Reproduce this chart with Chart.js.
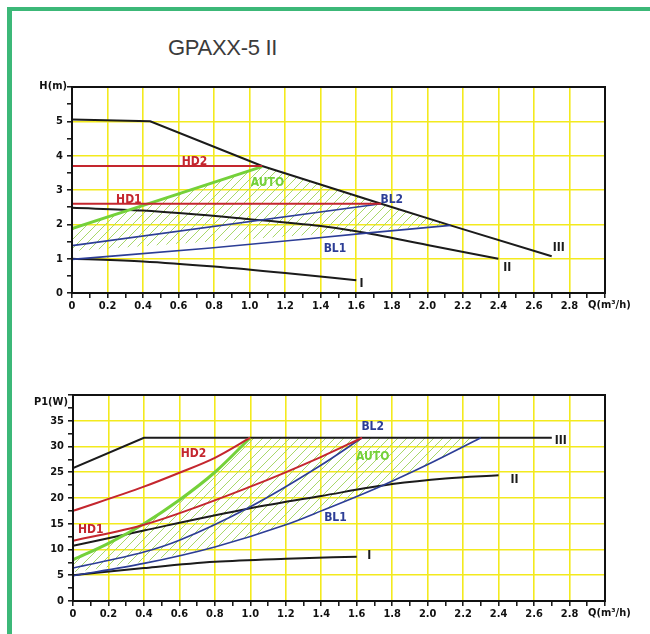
<!DOCTYPE html>
<html>
<head>
<meta charset="utf-8">
<script src="https://cdn.jsdelivr.net/npm/chart.js@4/dist/chart.umd.min.js"></script>
<style>
  html, body { margin: 0; padding: 0; background: #fff; width: 650px; height: 634px; overflow: hidden; }
  .frame { position: absolute; left: 7px; top: 7px; width: 660px; height: 624px;
    border-left: 5px solid #3cb878; border-top: 4px solid #3cb878; border-bottom: 1px solid #dcefe3; }
  .title { position: absolute; left: 168px; top: 35px; font: 22px "Liberation Sans Narrow", "Arial Narrow", "Liberation Sans", sans-serif;
    color: #3b3b3b; letter-spacing: -0.3px; }
  canvas { position: absolute; left: 0; }
  #topChart { top: 60px; }
  #bottomChart { top: 368px; }
</style>
</head>
<body>
<div class="frame"></div>
<div class="title">GPAXX-5 II</div>
<canvas id="topChart" width="650" height="262"></canvas>
<canvas id="bottomChart" width="650" height="262"></canvas>
<script>
// ---- head curves H(m) vs Q(m3/h)
const hQ_III = [0, 0.44, 1.07, 1.74, 2.13, 2.7];
const hH_III = [5.05, 5.0, 3.7, 2.6, 1.97, 1.07];
const hQ_II = [0, 0.4, 1.0, 1.4, 1.6, 2.0, 2.4];
const hH_II = [2.48, 2.4, 2.15, 1.95, 1.8, 1.4, 1.0];
const hQ_I = [0, 0.4, 0.8, 1.2, 1.6];
const hH_I = [1.0, 0.92, 0.77, 0.58, 0.37];
const hQ_HD2 = [0, 1.07];
const hH_HD2 = [3.7, 3.7];
const hQ_HD1 = [0, 1.74];
const hH_HD1 = [2.6, 2.6];
const hQ_AUTO = [0, 1.07];
const hH_AUTO = [1.88, 3.68];
const hQ_BL2 = [0, 1.74];
const hH_BL2 = [1.38, 2.6];
const hQ_BL1 = [0, 0.78, 1.67, 2.13];
const hH_BL1 = [0.98, 1.31, 1.75, 1.97];
const hQ_zoneTop = [0, 1.07, 1.74, 2.13];
const hH_zoneTop = [1.88, 3.68, 2.6, 1.97];
const hQ_zoneLow = [0, 2.13];
const hH_zoneLow = [1.22, 1.97];

// ---- power curves P1(W) vs Q(m3/h)
const pQ_III = [0, 0.4, 2.7];
const pP_III = [25.8, 31.7, 31.7];
const pQ_II = [0, 0.4, 1.0, 1.4, 1.8, 2.1, 2.4];
const pP_II = [10.7, 13.7, 18.0, 20.4, 22.7, 23.8, 24.4];
const pQ_I = [0, 0.4, 0.8, 1.2, 1.6];
const pP_I = [5.0, 6.4, 7.6, 8.2, 8.6];
const pQ_HD2 = [0, 0.4, 0.6, 0.8, 1.0];
const pP_HD2 = [17.5, 22.2, 24.9, 27.8, 31.7];
const pQ_HD1 = [0, 0.4, 1.0, 1.4, 1.63];
const pP_HD1 = [11.7, 14.8, 22.2, 28.0, 31.7];
const pQ_AUTO = [0, 0.2, 0.4, 0.6, 0.8, 1.0];
const pP_AUTO = [8.0, 11.2, 15.0, 19.6, 25.0, 31.7];
const pQ_BL2 = [0, 0.4, 0.6, 1.0, 1.4, 1.63];
const pP_BL2 = [6.4, 9.5, 11.8, 18.3, 26.4, 31.7];
const pQ_BL1 = [0, 0.4, 0.8, 1.2, 1.4, 1.73, 2.0, 2.3];
const pP_BL1 = [4.9, 7.3, 10.5, 14.8, 17.5, 22.2, 26.5, 31.7];
const pQ_zoneTop = [0, 0.2, 0.4, 0.6, 0.8, 1.0, 2.3];
const pP_zoneTop = [8.0, 11.2, 15.0, 19.6, 25.0, 31.7, 31.7];
const pQ_zoneLow = [0, 0.4, 0.8, 1.2, 1.4, 1.73, 2.0, 2.3];
const pP_zoneLow = [5.6, 7.6, 10.6, 14.8, 17.5, 22.2, 26.5, 31.7];

// curve names and where they sit (data units)
const headLabels = [
  ["HD2", 0.69, 3.82, "red"], ["HD1", 0.32, 2.71, "red"], ["AUTO", 1.10, 3.22, "green"],
  ["BL2", 1.80, 2.71, "blue"], ["BL1", 1.48, 1.28, "blue"],
  ["III", 2.74, 1.31, "black"], ["II", 2.45, 0.73, "black"], ["I", 1.63, 0.26, "black"],
];
const powerLabels = [
  ["HD2", 0.68, 28.5, "red"], ["HD1", 0.10, 13.8, "red"], ["AUTO", 1.69, 28.0, "green"],
  ["BL2", 1.69, 33.8, "blue"], ["BL1", 1.48, 16.1, "blue"],
  ["III", 2.75, 31.1, "black"], ["II", 2.49, 23.5, "black"], ["I", 1.67, 8.7, "black"],
];

const colors = { red: "#c4262e", green: "#74d13a", blue: "#2c3d96", black: "#1b1b1b" };
const yellow = "#f3ea1e";
const tickFont = { family: "'DejaVu Sans Condensed', 'DejaVu Sans', sans-serif", size: 11, weight: "bold" };
const labelFont = "bold 12px 'DejaVu Sans Condensed', 'DejaVu Sans', sans-serif";

function pts(xs, ys) {
  return xs.map((x, i) => ({ x: x, y: ys[i] }));
}

function makeHatch() {
  const c = document.createElement("canvas");
  c.width = 9;
  c.height = 9;
  const g = c.getContext("2d");
  g.strokeStyle = "#a8d86a";
  g.lineWidth = 1;
  g.beginPath();
  g.moveTo(0, 9); g.lineTo(9, 0);
  g.moveTo(-1, 1); g.lineTo(1, -1);
  g.moveTo(8, 10); g.lineTo(10, 8);
  g.stroke();
  return g.createPattern(c, "repeat");
}

function curve(xs, ys, color, width, smooth) {
  return {
    data: pts(xs, ys),
    borderColor: color,
    borderWidth: width,
    pointRadius: 0,
    fill: false,
    cubicInterpolationMode: smooth ? "monotone" : "default",
    tension: 0,
  };
}

const framePlugin = {
  id: "frame",
  afterDatasetsDraw(chart, args, opts) {
    const a = chart.chartArea;
    const ctx = chart.ctx;
    ctx.save();
    ctx.strokeStyle = "#111";
    ctx.lineWidth = 2;
    ctx.strokeRect(a.left, a.top, a.right - a.left, a.bottom - a.top);

    ctx.font = labelFont;
    ctx.textBaseline = "middle";
    opts.items.forEach((it) => {
      ctx.fillStyle = colors[it[3]];
      ctx.textAlign = "center";
      ctx.fillText(it[0], chart.scales.x.getPixelForValue(it[1]), chart.scales.y.getPixelForValue(it[2]));
    });

    ctx.fillStyle = "#111";
    ctx.font = tickFont.weight + " " + tickFont.size + "px " + tickFont.family;
    ctx.textAlign = "right";
    ctx.fillText(opts.yName, a.left - 5, a.top + opts.yNameDy);
    ctx.textAlign = "left";
    ctx.fillText("Q(m³/h)", a.right - 17, a.bottom + 12);
    ctx.restore();
  },
};

function makeChart(id, yMax, yStep, yMajor, yLabelMax, yWidth, sets, labels, yName, yNameDy) {
  const hatch = makeHatch();
  const datasets = [
    curve(sets.HD2[0], sets.HD2[1], colors.red, 2, true),
    curve(sets.HD1[0], sets.HD1[1], colors.red, 2, true),
    curve(sets.AUTO[0], sets.AUTO[1], colors.green, 3, true),
    curve(sets.BL2[0], sets.BL2[1], colors.blue, 1.6, true),
    curve(sets.BL1[0], sets.BL1[1], colors.blue, 1.6, true),
    curve(sets.III[0], sets.III[1], colors.black, 2, false),
    curve(sets.II[0], sets.II[1], colors.black, 2, true),
    curve(sets.I[0], sets.I[1], colors.black, 2, true),
    curve(sets.zoneTop[0], sets.zoneTop[1], "rgba(0,0,0,0)", 0, false),
    Object.assign(curve(sets.zoneLow[0], sets.zoneLow[1], "rgba(0,0,0,0)", 0, false), {
      fill: "-1",
      backgroundColor: hatch,
    }),
  ];

  return new Chart(document.getElementById(id), {
    type: "line",
    data: { datasets: datasets },
    options: {
      responsive: false,
      animation: false,
      layout: { padding: { left: 0, right: 45, top: 27, bottom: 0 } },
      plugins: {
        legend: { display: false },
        tooltip: { enabled: false },
        frame: { items: labels, yName: yName, yNameDy: yNameDy },
      },
      scales: {
        x: {
          type: "linear",
          min: 0,
          max: 3,
          afterFit: (s) => { s.height = 29; },
          ticks: {
            stepSize: 0.1,
            autoSkip: false,
            maxRotation: 0,
            padding: 2,
            color: "#111",
            font: tickFont,
            callback: (v) => {
              const k = Math.round(v * 10);
              if (k % 2 !== 0 || k >= 30) return "";
              return k === 0 ? "0" : (k / 10).toFixed(1);
            },
          },
          grid: {
            color: (c) => (Math.round(c.tick.value * 10) % 2 === 0 ? yellow : "rgba(0,0,0,0)"),
            lineWidth: 1.6,
            tickLength: 5,
            tickColor: "#111",
            tickWidth: 1.5,
          },
          border: { color: "#111", width: 2 },
        },
        y: {
          type: "linear",
          min: 0,
          max: yMax,
          afterFit: (s) => { s.width = yWidth; },
          ticks: {
            stepSize: yStep,
            autoSkip: false,
            padding: 4,
            color: "#111",
            font: tickFont,
            callback: (v) => (v % yMajor === 0 && v <= yLabelMax ? String(v) : ""),
          },
          grid: {
            color: (c) => (c.tick.value % yMajor === 0 ? yellow : "rgba(0,0,0,0)"),
            lineWidth: 1.6,
            tickLength: 5,
            tickColor: "#111",
            tickWidth: 1.5,
          },
          border: { color: "#111", width: 2 },
        },
      },
    },
    plugins: [framePlugin],
  });
}

makeChart("topChart", 6, 0.5, 1, 5, 72, {
  HD2: [hQ_HD2, hH_HD2], HD1: [hQ_HD1, hH_HD1], AUTO: [hQ_AUTO, hH_AUTO],
  BL2: [hQ_BL2, hH_BL2], BL1: [hQ_BL1, hH_BL1],
  III: [hQ_III, hH_III], II: [hQ_II, hH_II], I: [hQ_I, hH_I],
  zoneTop: [hQ_zoneTop, hH_zoneTop], zoneLow: [hQ_zoneLow, hH_zoneLow],
}, headLabels, "H(m)", -1);

makeChart("bottomChart", 40, 2.5, 5, 35, 73, {
  HD2: [pQ_HD2, pP_HD2], HD1: [pQ_HD1, pP_HD1], AUTO: [pQ_AUTO, pP_AUTO],
  BL2: [pQ_BL2, pP_BL2], BL1: [pQ_BL1, pP_BL1],
  III: [pQ_III, pP_III], II: [pQ_II, pP_II], I: [pQ_I, pP_I],
  zoneTop: [pQ_zoneTop, pP_zoneTop], zoneLow: [pQ_zoneLow, pP_zoneLow],
}, powerLabels, "P1(W)", 7);
</script>
</body>
</html>
